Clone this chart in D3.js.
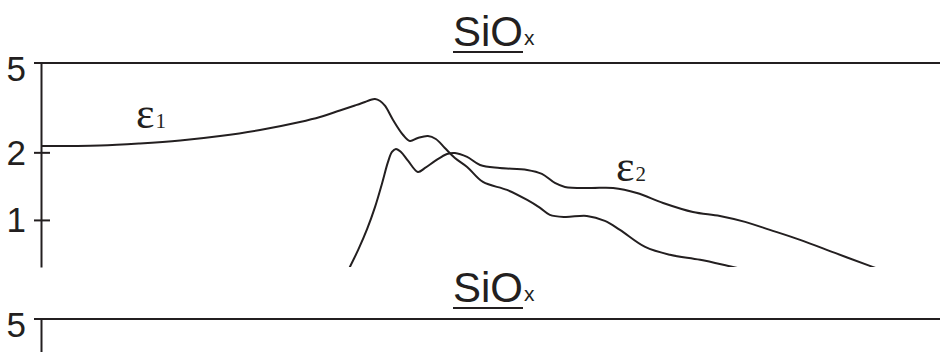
<!DOCTYPE html>
<html>
<head>
<meta charset="utf-8">
<script src="https://cdn.jsdelivr.net/npm/d3@7"></script>
<style>
  html, body { margin: 0; padding: 0; background: #fff; }
  svg { display: block; }
</style>
</head>
<body>
<svg id="chart" width="940" height="352"></svg>
<script>
// Dielectric function of SiOx: photon energy (eV) vs. epsilon (log axis)
const energyE1 = [0.00, 1.64, 2.75, 3.87, 4.98, 6.09, 7.20, 7.76, 8.31, 8.73, 9.01, 9.15, 9.29, 9.43, 9.57, 9.79,
  10.07, 10.26, 10.48, 10.76, 10.98, 11.23, 11.51, 11.85, 12.29, 12.96, 13.52, 13.88, 14.15, 14.57,
  15.18, 15.68, 16.10, 16.80, 17.49, 18.33, 19.24, 19.99];
const eps1 = [2.135, 2.146, 2.191, 2.259, 2.366, 2.516, 2.731, 2.875, 3.073, 3.235, 3.353, 3.422, 3.457, 3.387, 3.218, 2.788,
  2.390, 2.248, 2.318, 2.366, 2.294, 2.092, 1.888, 1.722, 1.476, 1.360, 1.227, 1.131, 1.053, 1.031,
  1.042, 0.990, 0.903, 0.758, 0.699, 0.664, 0.617, 0.581];

const energyE2 = [8.45, 8.59, 8.82, 9.07, 9.29, 9.48, 9.65, 9.76, 9.87, 10.01, 10.21, 10.48, 10.68, 10.96,
  11.29, 11.51, 11.85, 12.21, 12.76, 13.52, 13.93, 14.29, 14.57, 15.27, 15.91, 16.57, 17.30, 18.13,
  18.88, 19.58, 20.27, 21.11, 22.08, 23.05, 23.47];
const eps2 = [0.546, 0.617, 0.735, 0.912, 1.143, 1.446, 1.813, 2.008, 2.071, 2.008, 1.831, 1.636, 1.704, 1.831,
  1.967, 1.987, 1.908, 1.757, 1.704, 1.670, 1.603, 1.461, 1.403, 1.388, 1.388, 1.319, 1.190, 1.085,
  1.042, 0.980, 0.903, 0.815, 0.713, 0.624, 0.590];

const yTicksTop = [1, 2, 5];
const yTicksBottom = [5];
const panelTitle = "SiO";
const panelTitleSub = "x";

const ink = "#231f20";
const svg = d3.select("#chart");

const x = d3.scaleLinear().domain([0, 25]).range([41, 940]);
const y = d3.scaleLog().domain([0.617, 5]).range([267, 63]);

function drawPanel(offset, ticks, series) {
  const g = svg.append("g").attr("transform", `translate(0,${offset})`);

  // title with underline
  g.append("text")
    .attr("x", 453).attr("y", 46)
    .attr("font-family", "Liberation Sans, Arial, sans-serif")
    .style("font-size", "42px")
    .attr("fill", ink)
    .text(panelTitle);
  g.append("text")
    .attr("x", 524).attr("y", 45)
    .attr("font-family", "Liberation Sans, Arial, sans-serif")
    .style("font-size", "21px")
    .attr("fill", ink)
    .text(panelTitleSub);
  g.append("line")
    .attr("x1", 453).attr("x2", 523)
    .attr("y1", 52).attr("y2", 52)
    .attr("stroke", ink).attr("stroke-width", 2);

  // frame top line
  g.append("line")
    .attr("x1", 34).attr("x2", 940)
    .attr("y1", y(5)).attr("y2", y(5))
    .attr("stroke", ink).attr("stroke-width", 2);

  // y axis
  const axis = d3.axisLeft(y).tickValues(ticks).tickSize(7).tickSizeOuter(0).tickPadding(8)
    .tickFormat(d3.format("d"));
  const ag = g.append("g").attr("transform", `translate(${x(0)},0)`).call(axis);
  ag.select(".domain").attr("stroke", ink).attr("stroke-width", 2);
  ag.selectAll(".tick line")
    .attr("stroke", ink).attr("stroke-width", 2)
    .attr("x2", d => d === 5 ? -7 : 9)
    .attr("x1", -7);
  ag.selectAll(".tick text")
    .attr("font-family", "Liberation Sans, Arial, sans-serif")
    .style("font-size", "35px")
    .attr("fill", ink)
    .attr("x", -15)
    .attr("dy", d => d === 5 ? "17px" : "12px");

  if (series) {
    const clipId = "clip" + offset;
    g.append("clipPath").attr("id", clipId)
      .append("rect").attr("x", x(0)).attr("y", y(5))
      .attr("width", 940 - x(0)).attr("height", y(0.617) - y(5));
    const line = d3.line()
      .x(d => x(d[0])).y(d => y(d[1]))
      .curve(d3.curveCatmullRom.alpha(0.5));
    series.forEach(s => {
      g.append("path")
        .datum(d3.zip(s.e, s.v))
        .attr("clip-path", `url(#${clipId})`)
        .attr("fill", "none")
        .attr("stroke", ink)
        .attr("stroke-width", 2)
        .attr("d", line);
    });
  }
}

drawPanel(0, yTicksTop, [
  { e: energyE1, v: eps1 },
  { e: energyE2, v: eps2 }
]);
drawPanel(256, yTicksBottom, null);

// curve labels
function epsLabel(px, py, sub) {
  const t = svg.append("text")
    .attr("x", px).attr("y", py)
    .attr("font-family", "Liberation Serif, Times New Roman, serif")
    .attr("fill", ink);
  t.append("tspan").style("font-size", "44px").text("ε");
  t.append("tspan").style("font-size", "21px").attr("dx", 1).text(sub);
}
epsLabel(136, 128, "1");
epsLabel(616, 181, "2");
</script>
</body>
</html>
